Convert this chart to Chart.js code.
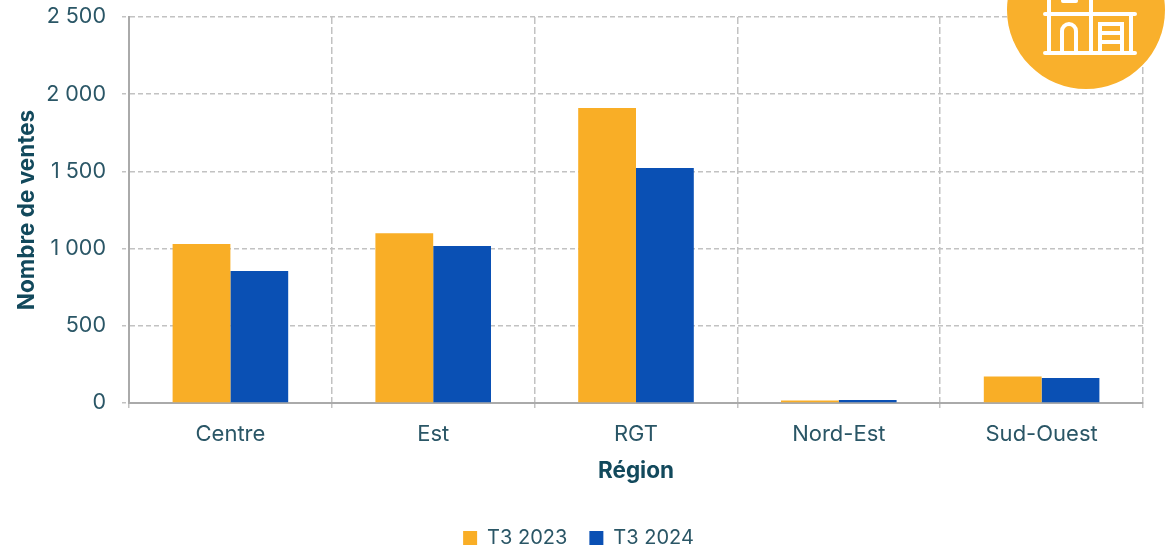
<!DOCTYPE html>
<html>
<head>
<meta charset="utf-8">
<script src="https://cdn.jsdelivr.net/npm/chart.js@4"></script>
<style>
  html, body { margin: 0; padding: 0; background: #fff; }
  #wrap { width: 1167px; height: 550px; position: relative; }
</style>
</head>
<body>
<div id="wrap"><canvas id="ventes"></canvas></div>
<script>
'use strict';
var regions = ['Centre', 'Est', 'RGT', 'Nord-Est', 'Sud-Ouest'];
var ventes2023 = [1030, 1100, 1910, 16, 172];
var ventes2024 = [855, 1017, 1522, 20, 162];
var yTicks = [0, 500, 1000, 1500, 2000, 2500];

var textColor = '#2a5666';
var titleColor = '#12495c';
var gridColor = '#c2c2c2';
var fontName = 'Inter';

// Orange badge with the building icon, top right
var badge = {
  id: 'badge',
  afterDraw: function (chart) {
    var c = chart.ctx;
    c.save();
    c.fillStyle = '#f9b02c';
    c.beginPath();
    c.arc(1086, 10, 79, 0, Math.PI * 2);
    c.fill();
    c.strokeStyle = '#fff';
    c.lineWidth = 4;
    c.lineCap = 'round';
    c.beginPath();
    c.moveTo(1045, 14); c.lineTo(1135, 14);
    c.moveTo(1045, 53); c.lineTo(1135, 53);
    c.moveTo(1049, 0); c.lineTo(1049, 53);
    c.moveTo(1131, 14); c.lineTo(1131, 53);
    c.moveTo(1091, 0); c.lineTo(1091, 53);
    c.moveTo(1063, 1); c.lineTo(1076, 1);
    c.moveTo(1062, 53); c.lineTo(1062, 31);
    c.arc(1069, 31, 7, Math.PI, 0);
    c.lineTo(1076, 53);
    c.moveTo(1100, 53); c.lineTo(1100, 24); c.lineTo(1122, 24); c.lineTo(1122, 53);
    c.moveTo(1102, 33); c.lineTo(1120, 33);
    c.moveTo(1102, 42); c.lineTo(1120, 42);
    c.stroke();
    c.restore();
  }
};

new Chart(document.getElementById('ventes'), {
  type: 'bar',
  data: {
    labels: regions,
    datasets: [
      { label: 'T3 2023', data: ventes2023, backgroundColor: '#f9ae26', categoryPercentage: 0.57, barPercentage: 1 },
      { label: 'T3 2024', data: ventes2024, backgroundColor: '#0a50b4', categoryPercentage: 0.57, barPercentage: 1 }
    ]
  },
  options: {
    responsive: true,
    maintainAspectRatio: false,
    animation: false,
    layout: { padding: { left: 14, right: 24, top: 17, bottom: -8 } },
    plugins: {
      tooltip: { enabled: false },
      legend: {
        position: 'bottom',
        labels: {
          boxWidth: 14,
          boxHeight: 14,
          padding: 22,
          color: textColor,
          font: { family: fontName, size: 20 }
        }
      }
    },
    scales: {
      x: {
        grid: { color: gridColor, lineWidth: 1.5, tickLength: 7, tickBorderDash: [4, 3], tickColor: gridColor },
        border: { color: '#aaaaaa', width: 2, dash: [7, 3] },
        ticks: { color: textColor, font: { family: fontName, size: 22 }, padding: 11, maxRotation: 0 },
        title: {
          display: true,
          text: 'Région',
          color: titleColor,
          font: { family: fontName, size: 22.5, weight: 'bold' },
          padding: { top: 6, bottom: 21 }
        },
        afterFit: function (axis) { axis.height = 103; }
      },
      y: {
        min: 0,
        max: 2500,
        afterBuildTicks: function (axis) {
          axis.ticks = yTicks.map(function (v) { return { value: v }; });
        },
        grid: { color: gridColor, lineWidth: 1.5, tickLength: 7, tickBorderDash: [4, 3], tickColor: gridColor },
        border: { color: '#aaaaaa', width: 2, dash: [5, 3] },
        ticks: {
          color: textColor,
          font: { family: fontName, size: 21.5 },
          padding: 16,
          callback: function (v) { return String(v).replace(/\B(?=(\d{3})+$)/g, ' '); }
        },
        title: {
          display: true,
          text: 'Nombre de ventes',
          color: titleColor,
          font: { family: fontName, size: 22.5, weight: 'bold' },
          padding: { top: 0, bottom: 10 }
        },
        afterFit: function (axis) {
          axis.width = 115;
          axis.paddingTop = 0;
          axis.paddingBottom = 0;
        }
      }
    }
  },
  plugins: [badge]
});
</script>
</body>
</html>
